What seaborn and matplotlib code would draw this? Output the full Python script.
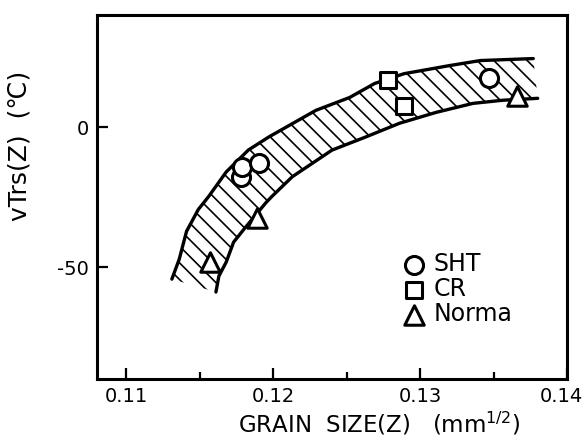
import numpy as np
import pandas as pd
import matplotlib
matplotlib.use("Agg")
import matplotlib.pyplot as plt
import matplotlib.transforms as mtrans
import seaborn as sns

# measured points (grain size, vTrs)
sht_x = [0.1178, 0.1179, 0.1190, 0.1347]
sht_y = [-17.7, -14.2, -12.8, 17.7]
cr_x = [0.1278, 0.1289]
cr_y = [16.7, 7.4]
norm_x = [0.1157, 0.1189, 0.1366]
norm_y = [-48.2, -32.3, 11.3]

# scatter band edges
upper_x = [0.1131, 0.1136, 0.1141, 0.1149, 0.1156, 0.1168, 0.1183, 0.1197,
           0.1229, 0.1252, 0.1269, 0.1289, 0.1320, 0.1341, 0.1377]
upper_y = [-54.3, -47.2, -37.2, -29.4, -24.8, -16.0, -8.2, -3.5,
           6.0, 10.6, 15.6, 19.1, 22.0, 23.8, 24.5]
lower_x = [0.1161, 0.1163, 0.1168, 0.1173, 0.1180, 0.1195, 0.1199, 0.1213,
           0.1240, 0.1263, 0.1286, 0.1311, 0.1336, 0.1356, 0.1380]
lower_y = [-58.9, -53.2, -48.2, -41.1, -36.5, -27.0, -24.8, -17.7,
           -8.2, -3.5, 1.4, 5.3, 8.5, 9.6, 10.3]

x_ticks = [0.11, 0.12, 0.13, 0.14]
x_tick_labels = ["0.11", "0.12", "0.13", "0.14"]
y_ticks = [-50, 0]

sns.set_style("ticks")
plt.rcParams["font.family"] = ["DejaVu Sans"]
plt.rcParams["axes.unicode_minus"] = False
plt.rcParams["hatch.linewidth"] = 1.2
plt.rcParams["hatch.color"] = "black"
plt.rcParams["text.color"] = "black"
plt.rcParams["axes.labelcolor"] = "black"
plt.rcParams["xtick.color"] = "black"
plt.rcParams["ytick.color"] = "black"
plt.rcParams["axes.edgecolor"] = "black"

fig = plt.figure(figsize=(5.84, 4.47), dpi=100)
ax = fig.add_axes([0.166, 0.152, 0.805, 0.814])

# hatched band
band_x = upper_x + lower_x[::-1]
band_y = upper_y + lower_y[::-1]
ax.fill(band_x, band_y, facecolor="none", edgecolor="black", hatch="\\\\",
        linewidth=0, zorder=1)
sns.lineplot(x=upper_x, y=upper_y, color="black", lw=2.4, ax=ax, zorder=2)
sns.lineplot(x=lower_x, y=lower_y, color="black", lw=2.4, ax=ax, zorder=2)

groups = [
    ("SHT", sht_x, sht_y, "o", 13),
    ("CR", cr_x, cr_y, "s", 12),
    ("Norma", norm_x, norm_y, "^", 14),
]
for name, xs, ys, mk, ms in groups:
    df = pd.DataFrame({"x": xs, "y": ys})
    sns.scatterplot(data=df, x="x", y="y", marker=mk, s=ms ** 2,
                    facecolor="white", edgecolor="black", linewidth=2.2,
                    label=name, ax=ax, zorder=3)

ax.set_xlim(0.108, 0.14)
ax.set_ylim(-90, 40)
ax.set_xticks(x_ticks)
ax.set_xticklabels(x_tick_labels)
ax.set_xticks([0.115, 0.125, 0.135], minor=True)
ax.set_yticks(y_ticks)
ax.tick_params(axis="both", which="major", direction="in", length=8,
               width=1.6, labelsize=14, pad=6)
ax.tick_params(axis="x", which="minor", direction="in", length=5, width=1.6)
for s in ax.spines.values():
    s.set_linewidth(2.2)
    s.set_visible(True)

# last x label sits against the right edge, nudge it inward a little
last = ax.get_xticklabels()[-1]
last.set_transform(last.get_transform() +
                   mtrans.ScaledTranslation(-6 / 100, 0, fig.dpi_scale_trans))

ax.set_xlabel(r"GRAIN  SIZE(Z)   (mm$^{1/2}$)", fontsize=16.5)
ax.xaxis.set_label_coords(0.60, -0.085)
ax.set_ylabel("vTrs(Z)  (\u2103)", fontsize=18)
ax.yaxis.set_label_coords(-0.14, 0.64)

leg = ax.legend(loc="upper left", bbox_to_anchor=(0.63, 0.375), frameon=False,
                fontsize=17, handletextpad=0.3, labelspacing=0.05,
                borderaxespad=0, handlelength=1.0)

fig.savefig("out.png", dpi=100, facecolor="white")
